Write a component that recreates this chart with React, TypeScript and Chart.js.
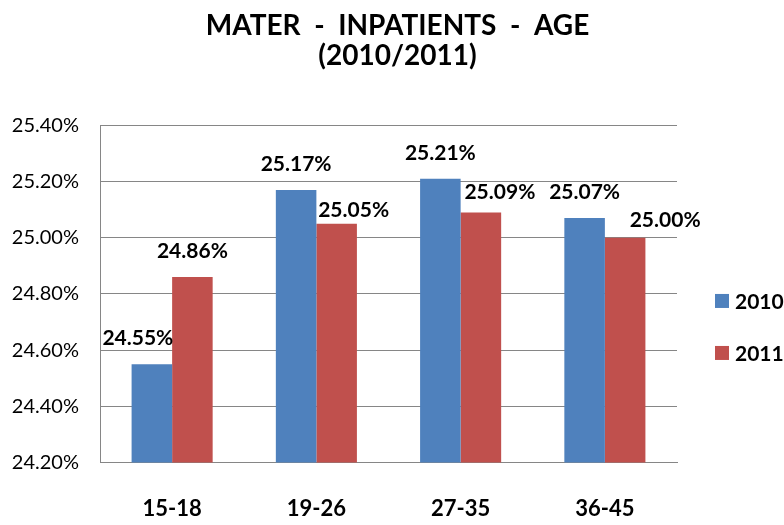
import React, { useEffect, useRef } from "react";
import { Chart, registerables } from "chart.js";

Chart.register(...registerables);

const categories = ["15-18", "19-26", "27-35", "36-45"];
const series2010 = [24.55, 25.17, 25.21, 25.07];
const series2011 = [24.86, 25.05, 25.09, 25.0];
const seriesNames = ["2010", "2011"];
const colors = ["#4F81BD", "#C0504D"];
const yMin = 24.2;
const yMax = 25.4;
const yStep = 0.2;
const titleLines = ["MATER  -  INPATIENTS  -  AGE", "(2010/2011)"];

// label nudges (dx, dy) per dataset/point, mimicking the original's hand-placed data labels
const labelNudge2010 = [[-14, 0], [0, 0], [0, 0], [0, 0]];
const labelNudge2011 = [[0, 0], [17, 12], [19, 6], [40, 8]];

const FONT = 'Lato, "Open Sans", sans-serif';

const dataLabelPlugin = {
  id: "dataLabels",
  afterDatasetsDraw(chart: any) {
    const ctx = chart.ctx;
    const nudges = [labelNudge2010, labelNudge2011];
    ctx.save();
    ctx.font = `bold 21px ${FONT}`;
    ctx.fillStyle = "#000";
    ctx.textAlign = "center";
    ctx.textBaseline = "middle";
    chart.data.datasets.forEach((ds: any, di: number) => {
      const meta = chart.getDatasetMeta(di);
      meta.data.forEach((el: any, i: number) => {
        const [dx, dy] = nudges[di][i];
        ctx.fillText(ds.data[i].toFixed(2) + "%", el.x + dx, el.y - 26 + dy);
      });
    });
    ctx.restore();
  },
};

const legendPlugin = {
  id: "customLegend",
  afterDraw(chart: any) {
    const ctx = chart.ctx;
    const area = chart.chartArea;
    const cy = (area.top + area.bottom) / 2 + 33;
    ctx.save();
    ctx.font = `bold 21px ${FONT}`;
    ctx.textBaseline = "middle";
    ctx.textAlign = "left";
    chart.data.datasets.forEach((ds: any, i: number) => {
      const y = cy + (i === 0 ? -26 : 26);
      const x = area.right + 38;
      ctx.fillStyle = ds.backgroundColor;
      ctx.fillRect(x, y - 7, 14, 14);
      ctx.fillStyle = "#000";
      ctx.fillText(ds.label, x + 20, y + 1);
    });
    ctx.restore();
  },
};

export default function App() {
  const ref = useRef<HTMLCanvasElement>(null);
  useEffect(() => {
    if (!ref.current) return;
    Chart.defaults.font.family = FONT;
    const chart = new Chart(ref.current, {
      type: "bar",
      data: {
        labels: categories,
        datasets: [
          { label: seriesNames[0], data: series2010, backgroundColor: colors[0] },
          { label: seriesNames[1], data: series2011, backgroundColor: colors[1] },
        ],
      },
      options: {
        animation: false,
        responsive: false,
        layout: { padding: { left: 11, right: 0, top: 0, bottom: 0 } },
        datasets: { bar: { categoryPercentage: 0.562, barPercentage: 1 } } as any,
        plugins: {
          legend: { display: false },
          tooltip: { enabled: false },
          title: {
            display: true,
            text: titleLines,
            color: "#000",
            font: { family: FONT, size: 28, weight: "bold", lineHeight: 1.07 },
            padding: { top: 11, bottom: 54.5 },
          },
        },
        scales: {
          x: {
            grid: { display: false, drawTicks: false },
            border: { display: true, color: "#868686", width: 1 },
            ticks: { color: "#000", font: { size: 22, weight: "bold", lineHeight: 1.2 }, padding: 33, maxRotation: 0 },
            afterFit: (s: any) => {
              s.height = 62.5;
            },
          },
          y: {
            min: yMin,
            max: yMax,
            grid: { color: "#868686", lineWidth: 1, drawTicks: false },
            border: { display: true, color: "#868686", width: 1 },
            ticks: {
              stepSize: yStep,
              color: "#000",
              padding: 21,
              font: { size: 20 },
              callback: (v: any) => Number(v).toFixed(2) + "%",
            },
            afterFit: (s: any) => {
              s.width = 89;
            },
          },
          legendSpace: {
            type: "linear",
            position: "right",
            display: true,
            grid: { display: false, drawTicks: false },
            border: { display: false },
            ticks: { display: false },
            afterFit: (s: any) => {
              s.width = 107;
            },
          },
        },
      },
      plugins: [dataLabelPlugin, legendPlugin],
    });
    return () => chart.destroy();
  }, []);
  return (
    <div style={{ position: "fixed", left: 0, top: 0, width: 784, height: 525, background: "#fff" }}>
      <canvas ref={ref} width={784} height={525} />
    </div>
  );
}
